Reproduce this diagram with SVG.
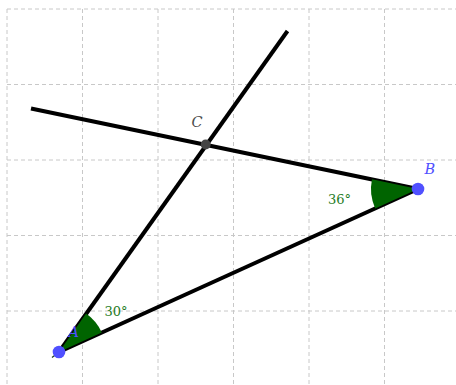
<svg xmlns="http://www.w3.org/2000/svg" width="456" height="385" viewBox="0 0 456 385">
  <style>
    .grid line { stroke: #c8c8c8; stroke-width: 1; stroke-dasharray: 4 3; }
    .seg { stroke: #000; stroke-width: 4; stroke-linecap: butt; fill: none; }
    .sector { fill: #006400; stroke: none; }
    .pt { fill: #5050ff; }
    .ptlabel { font-family: "DejaVu Serif", serif; font-style: italic; font-size: 14.5px; fill: #5050ff; }
    .clabel { font-family: "DejaVu Serif", serif; font-style: italic; font-size: 14.5px; fill: #4d4d4d; }
    .anglabel { font-family: "DejaVu Serif", serif; font-size: 13px; fill: #1e7b1e; }
  </style>
  <rect width="456" height="385" fill="#ffffff"/>
  <g class="grid">
    <line x1="7" y1="9" x2="7" y2="385"/>
    <line x1="82.5" y1="9" x2="82.5" y2="385"/>
    <line x1="158" y1="9" x2="158" y2="385"/>
    <line x1="233.5" y1="9" x2="233.5" y2="385"/>
    <line x1="309" y1="9" x2="309" y2="385"/>
    <line x1="384.5" y1="9" x2="384.5" y2="385"/>
    <line x1="7" y1="9" x2="456" y2="9"/>
    <line x1="7" y1="84.5" x2="456" y2="84.5"/>
    <line x1="7" y1="160" x2="456" y2="160"/>
    <line x1="7" y1="235.5" x2="456" y2="235.5"/>
    <line x1="7" y1="311" x2="456" y2="311"/>
  </g>
  <g id="connectors">
    <line class="seg" x1="59" y1="352" x2="287.5" y2="31"/>
    <line class="seg" x1="31" y1="108.5" x2="418" y2="189"/>
    <line class="seg" x1="59" y1="352" x2="418" y2="189"/>
    <line x1="59" y1="352" x2="52" y2="357.5" stroke="#1a3d1a" stroke-width="1.2"/>
  </g>
  <g id="angle-A">
    <path class="sector" d="M59 352 L86.1 313.6 A47 47 0 0 1 101.8 332.6 Z"/>
    <text class="anglabel" x="104.5" y="316">30°</text>
  </g>
  <g id="angle-B">
    <path class="sector" d="M418 189 L375.2 208.4 A47 47 0 0 1 372 179.3 Z"/>
    <text class="anglabel" x="328" y="203.5">36°</text>
  </g>
  <g id="point-A">
    <circle class="pt" cx="59" cy="352" r="6.3"/>
    <text class="ptlabel" x="68.5" y="337">A</text>
  </g>
  <g id="point-B">
    <circle class="pt" cx="418" cy="189" r="6.3"/>
    <text class="ptlabel" x="424.5" y="174">B</text>
  </g>
  <g id="point-C">
    <circle cx="205.7" cy="144.5" r="5" fill="#444444"/>
    <text class="clabel" x="191.5" y="127">C</text>
  </g>
</svg>
